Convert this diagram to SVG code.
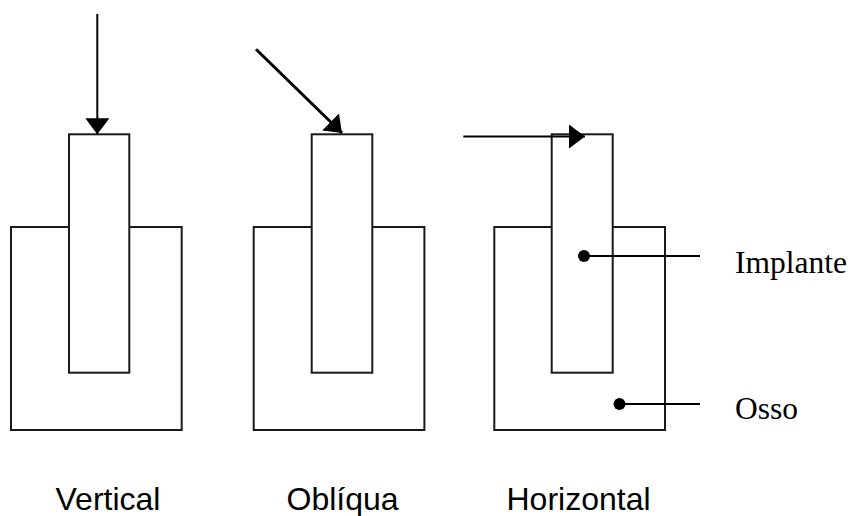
<svg xmlns="http://www.w3.org/2000/svg" width="850" height="516" viewBox="0 0 850 516">
<defs>
<style>
.s{fill:none;stroke:#1a1a1a;stroke-width:2}
.a{fill:none;stroke:#000;stroke-width:2}
.thick{stroke-width:3}
.lab{font-family:"Liberation Sans",Arial,sans-serif;font-size:32px;fill:#000}
.leg{font-family:"Liberation Serif","Times New Roman",serif;font-size:31.5px;fill:#000}
.dot{fill:#000}
</style>
<marker id="ah" markerWidth="16" markerHeight="24" refX="16" refY="12" orient="auto" markerUnits="userSpaceOnUse" viewBox="0 0 16 24">
<path d="M0,0 L16,12 L0,24 Z" fill="#000"/>
</marker>
</defs>
<rect width="850" height="516" fill="#fff"/>
<g id="vertical">
<path class="s" d="M69,227 H11 V430 H181.7 V227 H129.3"/>
<rect class="s" x="69" y="134.3" width="60.3" height="238.4"/>
</g>
<g id="obliqua">
<path class="s" d="M311.7,227 H253.7 V430 H424.4 V227 H372.3"/>
<rect class="s" x="311.7" y="134.3" width="60.6" height="238.4"/>
</g>
<g id="horizontal">
<path class="s" d="M551.7,227 H494.3 V430 H665 V227 H612.7"/>
<rect class="s" x="551.7" y="134.3" width="61" height="238.4"/>
</g>
<g id="connectors">
<line class="a" x1="97.3" y1="14" x2="97.3" y2="134.3" marker-end="url(#ah)"/>
<line class="a thick" x1="256" y1="49.3" x2="342" y2="133" marker-end="url(#ah)"/>
<line class="a" x1="463.3" y1="136.5" x2="585" y2="136.5" marker-end="url(#ah)"/>
<line class="a" x1="584" y1="256" x2="700" y2="256"/>
<circle class="dot" cx="584" cy="256" r="6"/>
<line class="a" x1="619.5" y1="404" x2="700" y2="404"/>
<circle class="dot" cx="619.5" cy="404" r="6"/>
</g>
<g id="labels">
<text class="leg" x="735" y="273">Implante</text>
<text class="leg" x="735" y="419">Osso</text>
<text class="lab" x="55.5" y="510">Vertical</text>
<text class="lab" x="286.5" y="510">Oblíqua</text>
<text class="lab" x="506.5" y="510">Horizontal</text>
</g>
</svg>
